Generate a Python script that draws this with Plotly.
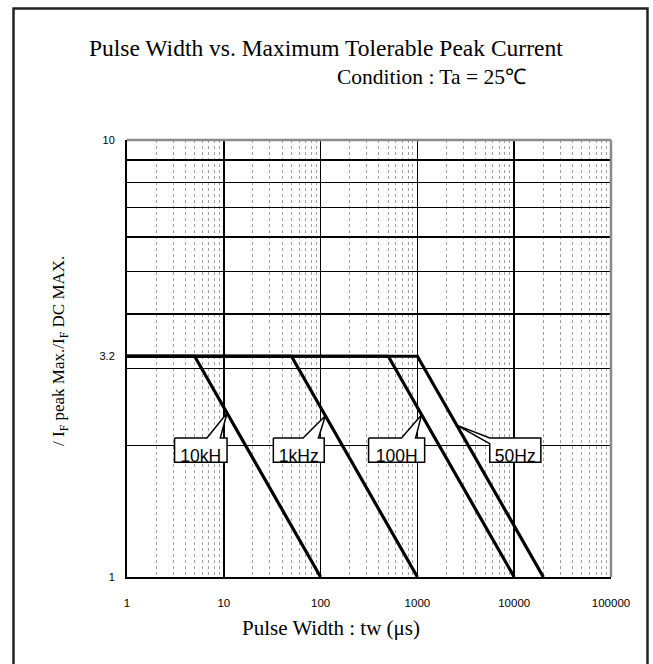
import math
import plotly.graph_objects as go

# ---------------- data ----------------
freq_labels = ["10kH", "1kHz", "100H", "50Hz"]
corner_tw = [5, 50, 500, 1000]          # pulse width where the curve leaves the 3.2 plateau (us)
end_tw = [100, 1000, 10000, 20000]      # pulse width where the curve reaches ratio 1 (us)
start_tw = 1
peak_ratio = 3.2
min_ratio = 1
callout_tip_tw = [10.8, 112, 1105, 2545]  # where each label's pointer touches its curve

x_tick_vals = [1, 10, 100, 1000, 10000, 100000]
x_tick_text = ["1", "10", "100", "1000", "10000", "100000"]
y_tick_vals = [1, 3.2, 10]
y_tick_text = ["1", "3.2", "10"]
y_grid_vals = [2, 3, 4, 5, 6, 7, 8, 9]

# ---------------- layout geometry ----------------
W, H = 653, 664
PL, PR, PT, PB = 127, 611, 140, 577    # plot area in window pixels
ML, MR, MT, MB = PL, W - PR, PT, H - PB
PW, PH = PR - PL, PB - PT


def px(xp):
    return (xp - PL) / PW


def py(yp):
    return (PB - yp) / PH


def curve_y(i, tw):
    """ratio on curve i at pulse width tw (log-log straight segment)."""
    lx0, lx1 = math.log10(corner_tw[i]), math.log10(end_tw[i])
    ly0, ly1 = math.log10(peak_ratio), math.log10(min_ratio)
    t = (math.log10(tw) - lx0) / (lx1 - lx0)
    return 10 ** (ly0 + t * (ly1 - ly0))


fig = go.Figure()

for i, lab in enumerate(freq_labels):
    fig.add_trace(go.Scatter(
        x=[start_tw, corner_tw[i], end_tw[i]],
        y=[peak_ratio, peak_ratio, min_ratio],
        mode="lines", line=dict(color="black", width=3.2),
        showlegend=False, hoverinfo="skip"))

# ---------------- callouts ----------------
box_top, box_bot = 2.08, 1.83
box_lr = [(3.1, 10.8), (32.5, 109), (313, 1188), (5590, 18850)]
wedge = [(6.7, 9.2), (66, 95), (686, 958), None]

for i, lab in enumerate(freq_labels):
    bl, br = box_lr[i]
    tx = callout_tip_tw[i]
    ty = curve_y(i, tx)
    if wedge[i] is not None:
        wl, wr = wedge[i]
        xs = [bl, wl, tx, wr, br, br, bl, bl]
        ys = [box_top, box_top, ty, box_top, box_top, box_bot, box_bot, box_top]
    else:
        xs = [bl, tx, bl, br, br, bl, bl]
        ys = [2.02, ty, box_top, box_top, box_bot, box_bot, 2.02]
    fig.add_trace(go.Scatter(
        x=xs, y=ys, mode="lines", fill="toself", fillcolor="white",
        line=dict(color="black", width=1.5),
        showlegend=False, hoverinfo="skip"))
    fig.add_trace(go.Scatter(
        x=[math.sqrt(bl * br)], y=[1.875], mode="text", text=[lab],
        textfont=dict(family="Liberation Sans, Arial", size=17.5, color="black"),
        showlegend=False, hoverinfo="skip"))

# minor x grid values (2..9 in each decade)
x_minor = [m * 10 ** d for d in range(0, 5) for m in range(2, 10)]

fig.update_xaxes(
    type="log", range=[0, 5],
    tickvals=x_tick_vals, ticktext=x_tick_text,
    tickfont=dict(family="Liberation Sans, Arial", size=11.5, color="black"),
    ticks="", ticklabelstandoff=14,
    showgrid=True, gridcolor="black", gridwidth=1.6,
    minor=dict(tickvals=x_minor, showgrid=True, gridcolor="#a0a0a0",
               griddash="dot", gridwidth=1, ticks=""),
    showline=True, linecolor="black", linewidth=2,
    zeroline=False, fixedrange=True)

fig.update_yaxes(
    type="log", range=[0, 1],
    tickvals=y_tick_vals, ticktext=y_tick_text,
    tickfont=dict(family="Liberation Sans, Arial", size=11, color="black"),
    ticks="", ticklabelstandoff=8,
    showgrid=False,
    minor=dict(tickvals=y_grid_vals, showgrid=True, gridcolor="black",
               gridwidth=1.6, ticks=""),
    showline=True, linecolor="black", linewidth=2,
    zeroline=False, fixedrange=True)

shapes = [
    # grey top and right plot edges
    dict(type="line", xref="paper", yref="paper", x0=0, x1=1, y0=1, y1=1,
         line=dict(color="#8a8a8a", width=2.5), layer="above"),
    dict(type="line", xref="paper", yref="paper", x0=1, x1=1, y0=0, y1=1,
         line=dict(color="#8a8a8a", width=2.5), layer="above"),
    # outer frame
    dict(type="rect", xref="paper", yref="paper",
         x0=px(13.5), x1=px(647.5), y0=py(690), y1=py(8.5),
         line=dict(color="#222222", width=2.5), layer="above"),
]

serif = "Liberation Serif, Times New Roman"
annotations = [
    dict(text="Pulse Width vs. Maximum Tolerable Peak Current",
         x=px(326), y=py(48), xref="paper", yref="paper", showarrow=False,
         xanchor="center", yanchor="middle",
         font=dict(family=serif, size=23.5, color="black")),
    dict(text="Condition : Ta = 25℃",
         x=px(431), y=py(77), xref="paper", yref="paper", showarrow=False,
         xanchor="center", yanchor="middle",
         font=dict(family=serif, size=21.5, color="black")),
    dict(text="/ I<sub>F</sub> peak Max./I<sub>F</sub> DC MAX.",
         x=px(60), y=py(351), xref="paper", yref="paper", showarrow=False,
         textangle=-90, xanchor="center", yanchor="middle",
         font=dict(family=serif, size=17, color="black")),
    dict(text="Pulse Width : tw (μs)",
         x=px(331), y=py(628), xref="paper", yref="paper", showarrow=False,
         xanchor="center", yanchor="middle",
         font=dict(family=serif, size=21, color="black")),
]

fig.update_layout(
    width=W, height=H,
    margin=dict(l=ML, r=MR, t=MT, b=MB, pad=0),
    paper_bgcolor="white", plot_bgcolor="white",
    shapes=shapes, annotations=annotations,
    showlegend=False)

fig.write_html(
    "out.html",
    config={"displayModeBar": False, "staticPlot": True},
    post_script="document.body.style.margin='0';"
                "document.body.style.overflow='hidden';"
                "document.documentElement.style.overflow='hidden';")
